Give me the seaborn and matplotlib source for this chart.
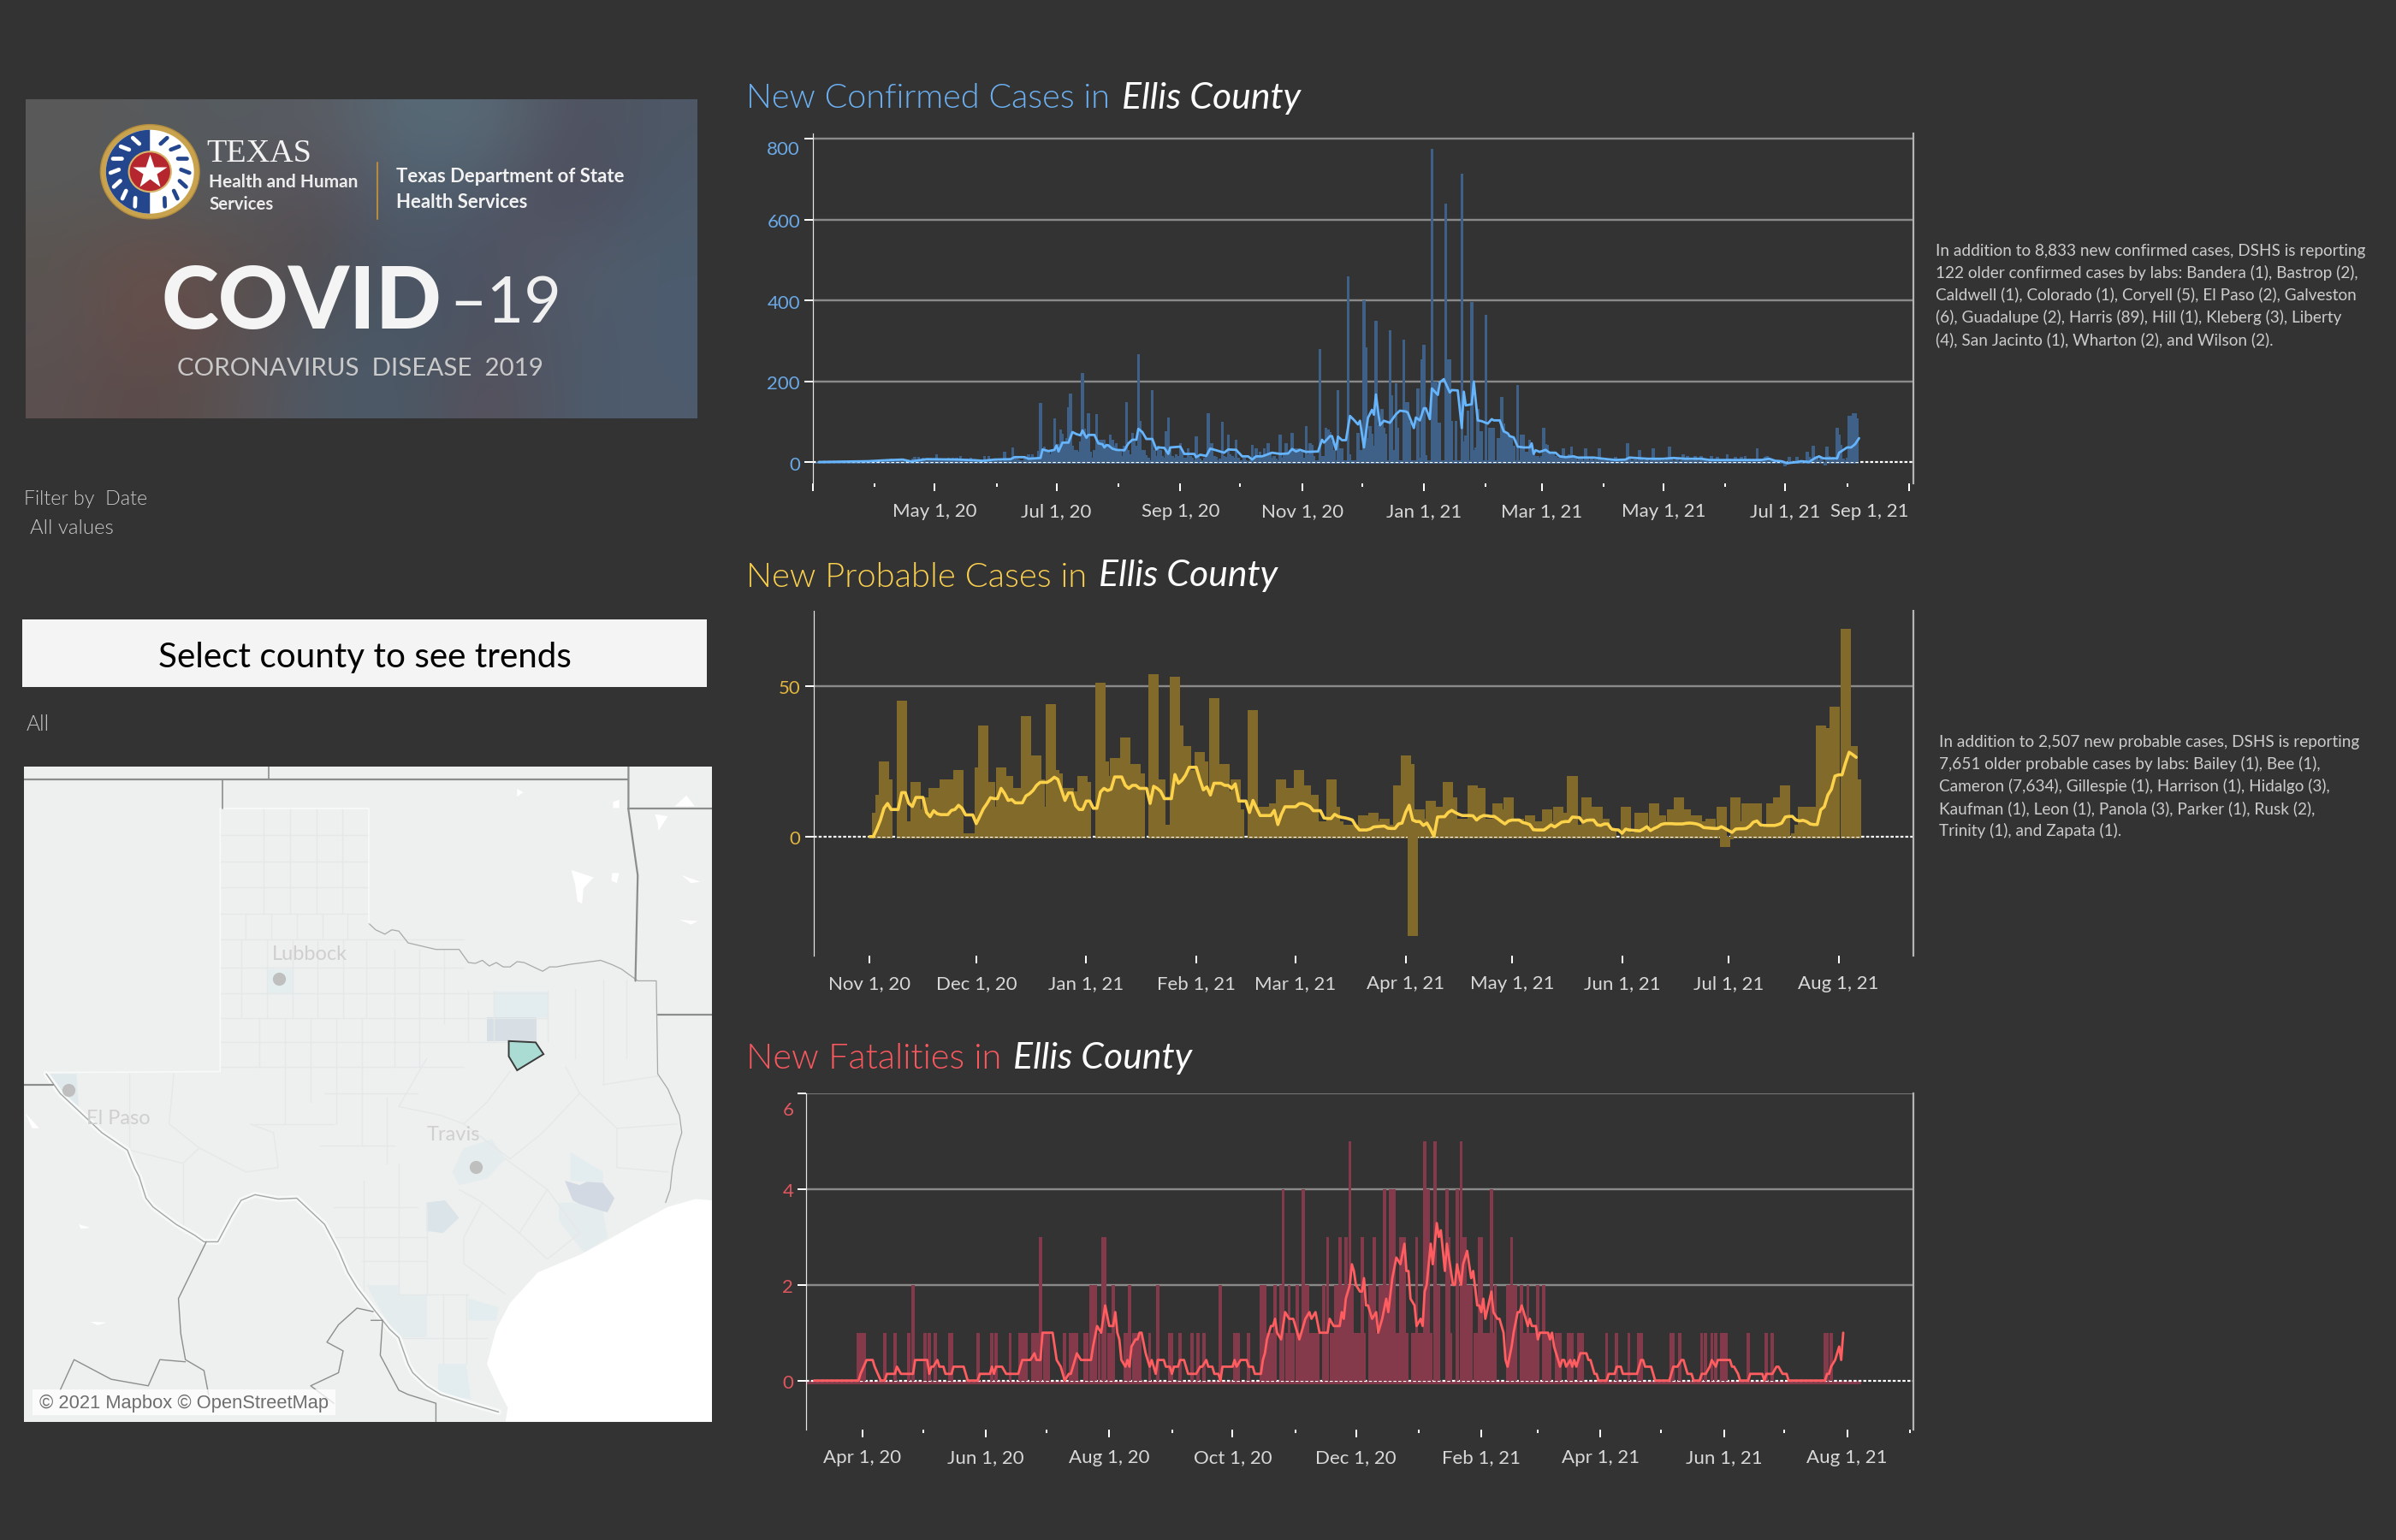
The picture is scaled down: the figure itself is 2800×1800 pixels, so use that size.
import numpy as np
import pandas as pd
import matplotlib
matplotlib.use("Agg")
import matplotlib.pyplot as plt
from matplotlib.patches import Polygon, Circle, Wedge, Rectangle
from matplotlib.transforms import ScaledTranslation
import seaborn as sns

sns.set_theme(style="dark")
FONT = ["Lato", "DejaVu Sans"]
plt.rcParams["font.family"] = FONT

# ---------- data ----------
# daily new confirmed cases from Mar 1, 2020 (rows of ten days)
conf_vals = [
0,0,0,0,0,0,0,1,0,0, 0,0,1,0,0,1,0,0,2,1, 1,0,2,1,0,3,1,2,4,2, 3,5,2,1,3,4,2,3,5,9,
5,2,3,6,4,2,3,1,2,3, 8,12,5,12,6,10,7,3,9,6, 5,8,20,6,3,5,7,4,11,9, 11,4,11,6,15,8,5,9,4,11,
7,3,5,2,4,3,15,2,15,4, 3,5,6,3,8,2,25,8,4,5, 37,10,8,7,5,4,8,6,20,12, 20,6,8,28,147,30,38,25,25,20,
30,109,30,45,80,69,50,60,135,169, 40,30,30,25,50,220,82,60,120,25, 10,30,118,50,55,55,55,40,45,68,
55,40,46,30,25,15,40,148,30,20, 71,50,40,266,101,29,29,16,10,5, 177,30,15,41,30,15,10,76,110,30,
15,10,20,15,46,25,10,10,33,15, 10,5,63,15,8,5,10,15,121,46, 46,15,12,5,8,100,15,12,68,20,
15,10,55,10,5,5,10,5,3,5, 42,15,33,15,25,10,33,20,46,25, 10,15,8,5,68,10,20,46,25,30,
71,33,33,33,25,25,10,89,20,46, 42,15,5,5,279,15,15,84,80,75, 50,30,5,177,33,33,5,5,460,20,
5,5,5,71,30,30,400,283,60,89, 70,40,350,90,95,131,84,70,5,325, 165,30,195,84,5,5,303,148,148,100,
5,5,5,182,10,254,290,16,5,5, 774,199,199,97,97,5,5,639,254,254, 101,5,101,5,5,714,50,65,127,5,
396,30,35,131,76,76,5,364,5,84, 84,84,5,60,60,160,96,70,65,65, 60,40,5,190,5,68,68,25,25,55,
42,20,15,15,10,15,84,45,42,25, 20,22,15,10,10,15,33,12,12,20, 38,10,8,5,8,10,5,33,10,5,
8,5,6,5,33,8,5,4,6,3, 5,8,12,6,3,4,5,5,46,8, 4,5,6,5,29,8,4,5,6,3, 5,33,8,4,6,3,5,5,6,38,
8,4,5,6,3,5,20,8,15,4, 5,4,15,6,3,15,4,5,3,6, 15,4,3,12,5,4,6,3,20,8, 3,4,12,5,3,12,4,15,3,5,
4,3,6,33,8,4,3,12,15,6, 5,3,2,1,0,-3,-5,-10,-6,12, 2,0,-2,12,2,-3,1,0,25,12, 8,41,10,15,5,12,2,-8,38,15,
8,12,5,84,68,42,8,5,10,114, 114,121,121,109]

conf_line = [(3,0),(28,2),(37,4.5),(45,6),(49,1.5),(57,7),(72,6),(81,4.5),(85,3),(91,6),(99,7),(101,12),(106,12),(108,8),
(114,10),(115,31),(118,27),(121,30),(122,41),(123,26),(125,48),(128,48),(130,74),(132,69),(134,66),(135,78),(137,60),(138,67),
(141,67),(143,46),(145,44),(146,36),(147,42),(148,41),(150,33),(152,30),(156,29),(158,46),(160,55),(162,55),(163,82),(165,74),
(167,57),(170,57),(172,31),(173,36),(176,35),(178,20),(179,36),(184,38),(186,20),(191,20),(192,12),(194,18),(197,15),(199,33),
(202,29),(206,23),(208,31),(212,30),(215,14),(218,14),(220,6),(222,14),(225,14),(230,23),(234,20),(238,21),(240,32),(242,26),
(244,30),(247,25),(253,26),(255,55),(256,48),(259,64),(260,64),(262,31),(263,63),(265,54),(267,54),(269,114),(271,104),(273,93),
(274,102),(276,36),(278,109),(280,129),(281,117),(282,167),(284,91),(286,102),(289,97),(292,118),(294,127),(297,125),(298,122),
(301,84),(302,110),(304,103),(306,133),(307,133),(309,106),(310,182),(313,166),(314,197),(316,205),(319,172),(320,178),(323,177),
(325,84),(326,174),(327,140),(330,143),(331,199),(333,103),(335,101),(338,95),(340,106),(341,103),(344,103),(346,76),(348,71),
(349,64),(351,61),(353,38),(356,36),(359,36),(360,46),(361,20),(362,29),(364,25),(367,30),(369,23),(372,23),(374,14),(377,12),
(381,14),(383,11),(391,11),(396,8),(402,5),(407,6),(409,11),(418,8),(426,8),(431,10),(437,8),(445,8),(449,5),(475,5),(479,8),
(482,3),(485,2),(488,-3),(493,0),(495,2),(499,0),(502,10),(504,14),(506,9),(513,9),(514,23),(518,36),(520,36),(522,44),(524,59)]

# daily new probable cases from Nov 1, 2020
prob_vals = [
0,0,8,14,25,19,0,0,0,45, 5,3,3,18,9,9,13,13,16,16, 16,19,19,15,8,22,1,1,1,1, 1,23,37,18,18,10,10,23,20,20,
16,16,16,12,40,27,27,27,19,10, 10,44,22,21,16,16,16,15,10,10, 20,18,0,0,0,51,25,20,20,26, 0,0,33,15,15,24,21,0,0,0,
54,19,19,4,0,0,53,37,30,30, 22,15,15,28,25,15,15,46,0,0, 24,15,15,19,9,0,0,0,42,10, 10,10,0,0,11,11,19,16,16,14,
14,22,17,17,14,14,0,0,5,5, 19,10,5,3,4,4,4,4,4,7, 5,5,8,5,5,6,4,4,4,17, 10,27,24,-33,6,9,6,6,12,10,
10,6,6,18,13,6,6,6,4,4, 17,16,16,5,6,5,5,11,9,9, 13,6,6,6,5,5,7,5,5,5, 5,9,4,5,10,8,5,5,20,4,
4,4,13,10,10,10,6,6,2,2, 0,0,0,10,1.5,1.5,1.5,8,8,3, 3,11,7,7,5,5,9,5,13,9, 9,7,7,7,5,3,3,6,3,3,
10,-3.4,-1,0,13,0,5,11,11,11, 11,3,3,3,11,11,13,13,17,0, 0,1,4,10,10,10,10,10,37,36, 20,20,43,0,0,69,30,30,19]

prob_line = [
0,0,2.5,5.5,9.4,11,9,9,9,14.6, 14.6,11,10,13,13,13,8,6.6,8.6,7.6, 7.3,7.3,7.3,8.7,9,10.4,9.4,7.2,7.2,7.2,
4.3,6.7,9.2,10.9,12.9,12.6,12.6,16,14.3,12, 12.3,11.2,11.2,11.2,13.5,14.2,15.3,17,18,18, 18,18.7,19.7,19,15.5,12,14.5,14.5,10.3,9,
9,11.8,11.8,9.4,9.4,14.8,16,15.3,15.7,19.8, 19.8,19.8,17,16,17,17,16,16,16,11, 16.7,16,15,12.6,12.6,12.6,20.6,17.7,18.7,20.4,
23,23,23,19,15.5,16.5,13.8,17.7,17.7,17.7, 17,17,16,17.5,11.8,11.8,11.8,8,12,9.4, 7,7,7,7,8.7,4,7.4,9.9,9.9,9.9,
9.9,10.9,11,10.6,10,8.6,8.6,8.6,6.2,6, 6,7.4,6.7,6.4,6.2,5.9,5.5,3.5,2.2,2.2, 2.2,2.5,3.2,3.3,3.4,3.5,2.8,2.7,2.7,4.2,
4.5,8,10.4,5.5,5,5,3.7,4.5,2.5,0.1, 6.5,6.6,6.6,8,8.7,8,7.4,7,7,7, 6.9,5.5,6.5,7,6.9,6.7,6.7,5.9,5,4.2,
5.2,5.5,5.5,5.5,4.7,4.4,4,2.3,2.2,2.2, 2.2,3,3.9,3.2,4,4.8,5,5,6.5,6.4, 6.3,4.8,5.4,5.5,5.5,3.9,3.7,4.2,4.2,2.5,
2.3,2.2,1.1,2.5,2.2,2.1,2,1.9,2.5,3.3, 2,2.7,3.2,4,4.3,4.3,4.3,4.2,4.2,4.2, 4.4,4.5,4.4,4.2,3.8,3,2.9,2.8,2.7,2.7,
3.3,2.7,2,1.4,2.5,2.6,2.6,2.7,3.5,4.8, 5.2,3.9,3.7,3.7,3.7,3.7,4,4.5,6.5,6.7, 6.7,5.5,5.2,5.4,5,4.2,4,4,8.9,9.9,
13.8,15.7,20.1,20.5,20.5,24.5,28,27.2,26.3]

# days since Apr 1, 2020 on which the county reported each fatality count
fatal_5 = [241,278,283,296]
fatal_4 = [208,218,258,261,262,263,279,280,289,294,311]
fatal_3 = [88,119,120,230,236,239,247,253,266,267,268,274,290,297,298,305,306,321]
fatal_2 = [25,113,114,115,124,132,146,177,197,198,199,204,207,211,215,219,220,228,234,235,237,238,240,242,251,252,256,257,259,260,
           284,285,299,300,301,313,319,320,322,323,326,329,334,337]
fatal_1 = [-2,-1,0,1,11,16,23,31,33,36,43,44,57,64,66,73,78,79,80,81,84,85,86,87,90,91,92,100,103,104,105,106,110,111,117,122,123,
           130,131,134,135,136,137,142,152,153,157,163,166,169,184,185,186,191,200,201,202,203,210,212,213,216,217,221,222,223,224,225,
           229,232,233,243,244,245,246,248,254,255,264,265,269,272,273,275,276,277,281,291,303,304,307,308,309,310,312,327,328,330,331,
           332,333,338,339,340,343,344,345,349,350,351,354,355,356,368,373,379,384,385,400,401,404,415,417,420,422,425,426,427,438,447,
           450,476,477,479]

fatal_line = [(-24,0),(-2,0),(-1,.14),(2,.43),(5,.43),(6,.29),(9,0),(11,0),(12,.14),(16,.14),(17,.29),(19,.14),(25,.14),(26,.43),(32,.43),
(33,.14),(34,.29),(35,.29),(37,.43),(38,.29),(40,.29),(41,.14),(44,.14),(45,.29),(50,.29),(52,0),(57,0),(58,.14),(63,.14),(64,.29),(65,.14),
(66,.29),(69,.29),(71,.14),(77,.14),(79,.43),(83,.43),(85,.57),(86,.43),(88,.43),(89,1),(94,1),(95,.71),(96,.43),(98,.29),(100,0),(102,.14),
(103,.14),(105,.43),(106,.57),(108,.43),(113,.43),(114,.71),(116,1.14),(118,1),(119,1.29),(120,1.57),(122,1.14),(124,1.14),(125,1.43),(126,1),
(127,.86),(128,.43),(130,.29),(131,.43),(132,.29),(133,.71),(135,.86),(136,.86),(137,1),(138,1),(140,.57),(142,.29),(143,.43),(145,.14),(146,.43),
(149,.43),(150,.29),(152,.29),(153,.14),(154,.29),(156,.29),(157,.43),(159,.43),(161,.14),(165,.14),(167,.29),(168,.29),(170,.43),(171,.29),
(173,.29),(174,.14),(176,.14),(177,0),(178,.29),(183,.29),(184,.43),(185,.29),(187,.43),(190,.43),(191,.29),(193,.29),(194,.14),(197,.14),(198,.43),
(199,.57),(200,.86),(202,1.14),(203,1.14),(204,1.29),(205,1),(207,.86),(209,1.43),(211,1.29),(213,1.29),(216,.86),(217,1),(219,1.29),(221,1.43),
(222,1.29),(224,1.43),(226,1),(230,1),(231,1.29),(233,1.14),(236,1.14),(237,1.43),(238,1.29),(239,1.71),(241,2),(242,2.43),(243,2.29),(244,2),
(246,1.86),(247,1.86),(248,2.14),(249,1.57),(250,1.57),(252,1.29),(254,1.43),(255,1),(257,1.29),(259,1.71),(260,1.43),(262,2.14),(264,2.57),
(266,2.43),(268,2.86),(269,2.29),(270,2.29),(271,1.71),(273,1.57),(274,1.14),(276,1.29),(277,1.14),(278,1.86),(279,2),(281,2.86),(282,2.43),
(284,3.29),(285,3),(286,3.14),(288,2.29),(289,2.86),(290,2.57),(292,2),(293,2),(294,2.43),(296,2),(297,2.43),(299,2.71),(301,2.14),(302,2.29),
(304,1.57),(305,1.57),(306,1.43),(307,1.71),(308,1.29),(311,1.86),(312,1.43),(314,1.29),(315,1.29),(317,1),(318,.43),(319,.29),(321,.71),(322,1),
(324,1.43),(325,1.43),(326,1.57),(328,1.29),(329,1.14),(330,1.29),(331,1.14),(333,1.14),(334,.86),(335,1),(339,1),(340,.86),(341,1),(342,.71),
(345,.29),(346,.43),(347,.43),(348,.29),(350,.43),(351,.29),(352,.43),(353,.29),(355,.57),(358,.57),(359,.43),(360,.43),(362,.14),(363,.14),(364,0),
(368,0),(369,.14),(372,.14),(373,.29),(375,.29),(376,.14),(383,.14),(385,.43),(386,.43),(387,.29),(390,.29),(392,0),(399,0),(401,.29),(403,.29),
(405,.43),(406,.43),(408,.14),(410,.14),(411,0),(414,0),(415,.14),(417,.14),(419,.29),(420,.43),(422,.29),(423,.43),(429,.43),(430,.29),(431,.29),
(433,.14),(434,0),(438,0),(439,.14),(445,.14),(446,0),(447,.14),(450,.14),(452,.29),(453,.29),(455,.14),(457,.14),(458,0),(476,0),(477,.14),(478,.14),
(479,.29),(481,.43),(483,.71),(484,.43),(485,1)]

conf_major = ["2020-03-01","2020-05-01","2020-07-01","2020-09-01","2020-11-01","2021-01-01","2021-03-01","2021-05-01","2021-07-01","2021-09-01"]
conf_minor = ["2020-04-01","2020-06-01","2020-08-01","2020-10-01","2020-12-01","2021-02-01","2021-04-01","2021-06-01","2021-08-01"]
conf_labels = ["","May 1, 20","Jul 1, 20","Sep 1, 20","Nov 1, 20","Jan 1, 21","Mar 1, 21","May 1, 21","Jul 1, 21","Sep 1, 21"]
prob_major = ["2020-11-01","2020-12-01","2021-01-01","2021-02-01","2021-03-01","2021-04-01","2021-05-01","2021-06-01","2021-07-01","2021-08-01"]
prob_labels = ["Nov 1, 20","Dec 1, 20","Jan 1, 21","Feb 1, 21","Mar 1, 21","Apr 1, 21","May 1, 21","Jun 1, 21","Jul 1, 21","Aug 1, 21"]
fatal_major = ["2020-04-01","2020-06-01","2020-08-01","2020-10-01","2020-12-01","2021-02-01","2021-04-01","2021-06-01","2021-08-01"]
fatal_minor = ["2020-05-01","2020-07-01","2020-09-01","2020-11-01","2021-01-01","2021-03-01","2021-05-01","2021-07-01","2021-09-01"]
fatal_labels = ["Apr 1, 20","Jun 1, 20","Aug 1, 20","Oct 1, 20","Dec 1, 20","Feb 1, 21","Apr 1, 21","Jun 1, 21","Aug 1, 21"]

note_conf = ["In addition to 8,833 new confirmed cases, DSHS is reporting",
             "122 older confirmed cases by labs: Bandera (1), Bastrop (2),",
             "Caldwell (1), Colorado (1), Coryell (5), El Paso (2), Galveston",
             "(6), Guadalupe (2), Harris (89), Hill (1), Kleberg (3), Liberty",
             "(4), San Jacinto (1), Wharton (2), and Wilson (2)."]
note_prob = ["In addition to 2,507 new probable cases, DSHS is reporting",
             "7,651 older probable cases by labs: Bailey (1), Bee (1),",
             "Cameron (7,634), Gillespie (1), Harrison (1), Hidalgo (3),",
             "Kaufman (1), Leon (1), Panola (3), Parker (1), Rusk (2),",
             "Trinity (1), and Zapata (1)."]

# ---------- figure ----------
W, H = 2800, 1800
BG = "#333333"
fig = plt.figure(figsize=(28, 18), dpi=100, facecolor=BG)
PT = 0.72  # points per pixel


def px_axes(x0, y0, x1, y1, **kw):
    return fig.add_axes([x0 / W, 1 - y1 / H, (x1 - x0) / W, (y1 - y0) / H], **kw)


def fit(t, width):
    r = fig.canvas.get_renderer()
    t.set_fontsize(t.get_fontsize() * width / t.get_window_extent(r).width)
    return t


def ftext(x, y, s, width=None, **kw):
    kw.setdefault("va", "center")
    kw.setdefault("color", "#d0d0d0")
    t = fig.text(x / W, 1 - y / H, s, **kw)
    if width:
        fit(t, width)
    return t


def days(dates, base):
    return [(pd.Timestamp(d) - pd.Timestamp(base)).days for d in dates]


def chart(box, base, xlim, ylim, yticks, ytop_shift, ycol, bar_x, bar_y, bar_col, bar_w, stub_x, stub_h,
          line_x, line_y, line_col, line_px, major, labels, minor=None, top_thin=False):
    ax = px_axes(*box)
    ax.set_facecolor(BG)
    sns.barplot(x=stub_x, y=[-stub_h] * len(stub_x), native_scale=True, width=bar_w, color=bar_col,
                saturation=1, errorbar=None, ax=ax, linewidth=0, zorder=1.4)
    ax.axhline(0, color="white", lw=2.2 * PT, ls=(0, (1.6, 1.0)), zorder=1.5)
    sns.barplot(x=bar_x, y=bar_y, native_scale=True, width=bar_w, color=bar_col, saturation=1,
                errorbar=None, ax=ax, linewidth=0, zorder=2)
    sns.lineplot(x=line_x, y=line_y, color=line_col, lw=line_px * PT, errorbar=None, ax=ax, zorder=3,
                 sort=False, estimator=None)
    ax.set_xlim(*xlim)
    ax.set_ylim(*ylim)
    ax.set_yticks(yticks)
    ax.set_xticks(days(major, base))
    ax.set_xticklabels(labels)
    if minor:
        ax.set_xticks(days(minor, base), minor=True)
    ax.set_xlabel("")
    ax.set_ylabel("")
    ax.grid(False)
    ax.set_axisbelow(True)
    for yv in yticks:
        if yv != 0:
            thin = top_thin and yv == yticks[-1]
            ax.axhline(yv, color="#8a8a8a", lw=(1.6 if thin else 2.4) * PT, zorder=1)
    for side in ("top", "bottom"):
        ax.spines[side].set_visible(False)
    ax.spines["left"].set_color("#e6e6e6")
    ax.spines["left"].set_linewidth(1.2 * PT)
    ax.spines["right"].set_color("#b4b4b4")
    ax.spines["right"].set_linewidth(2.2 * PT)
    ax.tick_params(axis="y", length=10 * PT, width=2 * PT, color="white", labelcolor=ycol, labelsize=16, pad=5 * PT, left=True)
    ax.tick_params(axis="x", which="major", length=9 * PT, width=2 * PT, color="white", labelcolor="#d8d8d8",
                   labelsize=16, pad=14 * PT, bottom=True)
    ax.tick_params(axis="x", which="minor", length=4 * PT, width=2 * PT, color="white", bottom=True)
    for tk, yv in zip(ax.yaxis.get_major_ticks(), yticks):
        dy = ytop_shift if yv == yticks[-1] and ytop_shift else 1.5
        lb = tk.label1
        lb.set_transform(lb.get_transform() + ScaledTranslation(0, -dy / 100, fig.dpi_scale_trans))
    return ax


# chart 1 - confirmed
cd = list(range(len(conf_vals)))
cl = pd.DataFrame(conf_line, columns=["d", "v"])
ax1 = chart((950, 156, 2236, 565), "2020-03-01", (0, 551.2), (-52.9, 812.7), [0, 200, 400, 600, 800], 11, "#6aa8e6",
            cd, conf_vals, "#3f6187", 1.5, cd, 4.5, cl.d, cl.v, "#66b4fb", 2.8, conf_major, conf_labels, conf_minor)
ax1.get_xticklabels()[-1].set_ha("right")

# chart 2 - probable
pd_days = list(range(len(prob_vals)))
pos_days = [d for d, v in zip(pd_days, prob_vals) if v > 0]
chart((950.5, 714, 2236, 1117), "2020-11-01", (-15.9, 294.1), (-39.5, 74.9), [0, 50], 0, "#e3b63e",
      pd_days, prob_vals, "#816a2a", 2.9, pos_days, 0.55, pd_days, prob_line, "#fdd24b", 3.6, prob_major, prob_labels)

# chart 3 - fatalities
fatal_table = pd.concat([pd.DataFrame({"d": lst, "v": val}) for lst, val in
                         [(fatal_1, 1), (fatal_2, 2), (fatal_3, 3), (fatal_4, 4), (fatal_5, 5)]]).sort_values("d")
fl = pd.DataFrame(fatal_line, columns=["d", "v"])
stub3 = list(range(-27, 494))
chart((942.3, 1278, 2236, 1670.7), "2020-04-01", (-27.8, 519.7), (-1.02, 6), [0, 2, 4, 6], 17.5, "#e0575f",
      fatal_table.d.tolist(), fatal_table.v.tolist(), "#853a4b", 1.6, stub3, 0.07, fl.d, fl.v, "#ff5d60", 2.8,
      fatal_major, fatal_labels, fatal_minor, top_thin=True)

# titles
TITLES = [("New Confirmed Cases in", "#6cb0f2", 126.5, 426, 1310.7),
          ("New Probable Cases in", "#fbd04e", 685.5, 399, 1284),
          ("New Fatalities in", "#f9585e", 1249, 298.6, 1183.5)]
for s, col, by_, w, ex in TITLES:
    ftext(872, by_, s, width=w, color=col, fontsize=27, va="baseline", fontweight=300)
    ftext(ex, by_, "Ellis County", width=209, color="white", fontsize=27, va="baseline", style="italic")

# notes
for i, s in enumerate(note_conf):
    ftext(2262, 293 + 26 * i, s, color="#cccccc", fontsize=13.7)
for i, s in enumerate(note_prob):
    ftext(2266, 867 + 26 * i, s, color="#cccccc", fontsize=13.7)

# left column
ftext(28, 583.5, "Filter by  Date", width=144, color="#c8c8c8", fontsize=15.5, fontweight=300)
ftext(35, 618, "All values", width=97, color="#c8c8c8", fontsize=15.5, fontweight=300)
ftext(31, 846.5, "All", width=27, color="#c8c8c8", fontsize=15.5, fontweight=300)

btn = px_axes(26, 724, 826, 803)
btn.set_facecolor("#f4f4f4")
btn.set_xticks([]); btn.set_yticks([])
for s in btn.spines.values():
    s.set_visible(False)
ftext(426, 768.5, "Select county to see trends", width=483, color="black", fontsize=28, ha="center", zorder=5)

# banner (drawn in its own pixel grid)
ban = px_axes(30, 116, 814, 489.5)
ban.set_axis_off()
ban_cols = [["#5a5a5a", "#585a5c", "#555c62", "#5a5a60", "#566a78", "#5a6a76", "#50505e", "#4d5866"],
            ["#5a5a5a", "#565656", "#565a5e", "#5a5058", "#4f6070", "#505a68", "#4e4a5a", "#4c5a6a"],
            ["#5a5450", "#684f4a", "#58514f", "#504c50", "#4a5868", "#505060", "#555c6a", "#4c5c6c"],
            ["#5a5454", "#6a4c48", "#5c5050", "#4e5660", "#485868", "#4f5260", "#505a68", "#4c5c70"],
            ["#5c5050", "#5a4a48", "#5a5454", "#4f5866", "#4a5a68", "#584f58", "#4d5a6a", "#4e5c6e"]]
ban_img = np.array([[matplotlib.colors.to_rgb(c) for c in row] for row in ban_cols])
ban.imshow(ban_img, extent=(56, 1519, 783, 51), aspect="auto", interpolation="bicubic")
ban.set_xlim(56, 1519); ban.set_ylim(783, 51)
sx, sy = 327, 217
ban.add_patch(Circle((sx, sy), 108, fc="#c9a24e", ec="#b08a3e", lw=1))
ban.add_patch(Circle((sx, sy), 96, fc="white", ec="none"))
ban.add_patch(Wedge((sx, sy), 96, 90, 270, fc="#24468c", ec="none"))
for ang in np.arange(-70, 80, 22):
    a = np.deg2rad(ang)
    ban.plot([sx + 68 * np.cos(a), sx + 86 * np.cos(a + .1)], [sy + 68 * np.sin(a), sy + 86 * np.sin(a + .1)], color="#24468c", lw=3.4)
    ban.plot([sx - 68 * np.cos(a), sx - 86 * np.cos(a + .1)], [sy + 68 * np.sin(a), sy + 86 * np.sin(a + .1)], color="white", lw=3.4)
ban.add_patch(Circle((sx, sy), 46, fc="#b5262f", ec="#d7b46a", lw=1.5))
ban.plot([sx], [sy], marker="*", ms=30, color="white", mec="none")
ban.plot([823, 823], [197, 325], color="#b58b3c", lw=1.5)


def bx(z):
    return 30 + (z - 56) / 1.867


def by(z):
    return 90 + z / 1.96


ftext(bx(450), by(175), "TEXAS", width=123, color="#f2f2f2", fontsize=28, family="Liberation Serif", zorder=5)
ftext(bx(456), by(242), "Health and Human", width=175, color="#ececec", fontsize=16, fontweight="bold", zorder=5)
ftext(bx(456), by(292), "Services", width=76, color="#ececec", fontsize=16, fontweight="bold", zorder=5)
ftext(bx(865), by(228), "Texas Department of State", width=267, color="#f2f2f2", fontsize=16, fontweight="bold", zorder=5)
ftext(bx(865), by(288), "Health Services", width=154, color="#f2f2f2", fontsize=16, fontweight="bold", zorder=5)
ftext(bx(352), by(520), "COVID", width=328, color="#f4f4f4", fontsize=80, fontweight="black", zorder=5)
ftext(bx(980), by(520), "\u201319", width=131, color="#f0f0f0", fontsize=80, zorder=5)
ftext(bx(387), by(668), "CORONAVIRUS  DISEASE  2019", width=425, color="#c9c9c9", fontsize=22, zorder=5)

# map (drawn in its own pixel grid)
mp = px_axes(28, 896, 832, 1661.6)
mp.set_facecolor("#eef0ef")
mp.set_xlim(52, 1535); mp.set_ylim(1532, 31)
mp.set_xticks([]); mp.set_yticks([])
for s in mp.spines.values():
    s.set_visible(False)
COUNTY = "#e5e8e8"
for yv, x0, x1 in [(188, 475, 795), (248, 475, 795), (308, 475, 795), (368, 475, 795), (428, 475, 1000), (492, 475, 1000),
                   (550, 475, 1180), (607, 475, 1180), (663, 475, 1100), (720, 475, 1000), (780, 700, 900), (850, 550, 720),
                   (900, 690, 850), (1040, 720, 900), (1110, 720, 920), (1165, 780, 920), (1240, 860, 1010), (1340, 860, 1050)]:
    mp.plot([x0, x1], [yv, yv], color=COUNTY, lw=1)
for xv, y0, y1 in [(568, 128, 368), (625, 128, 368), (682, 128, 368), (738, 128, 368), (530, 368, 428), (585, 368, 428),
                   (640, 368, 428), (695, 368, 428), (750, 368, 428), (520, 428, 607), (575, 428, 607), (632, 428, 607), (685, 428, 607),
                   (740, 428, 607), (790, 428, 607), (850, 450, 720), (905, 450, 720), (958, 450, 620), (1010, 545, 660), (1065, 545, 660),
                   (1180, 545, 660), (1240, 540, 700), (1300, 520, 760), (1350, 520, 700), (560, 607, 720), (615, 607, 850), (670, 607, 800),
                   (725, 607, 850), (780, 607, 900), (835, 790, 940), (785, 980, 1240), (860, 940, 1240), (920, 1040, 1240), (955, 1240, 1400), (1005, 1240, 1400)]:
    mp.plot([xv, xv], [y0, y1], color=COUNTY, lw=1)
for poly in [[(280, 735), (280, 910), (395, 940), (430, 905), (365, 850), (375, 735)], [(395, 940), (395, 1090)], [(430, 905), (530, 960), (600, 950), (590, 870), (540, 850)],
             [(1100, 730), (1050, 800), (1000, 850), (1100, 930), (1170, 870), (1250, 780), (1220, 720)], [(1090, 930), (1180, 1000), (1120, 1100), (1040, 1030), (990, 1000)],
             [(1180, 1000), (1250, 1100), (1180, 1160), (1120, 1100)], [(1300, 760), (1420, 740)], [(1250, 780), (1330, 860), (1460, 850)], [(1330, 860), (1330, 950), (1440, 960)],
             [(920, 700), (860, 810), (950, 830), (1000, 850)], [(1040, 1030), (1000, 1110), (1000, 1170), (1090, 1240)]]:
    px, py = zip(*poly)
    mp.plot(px, py, color=COUNTY, lw=1)
SHADES = [([(1065, 547), (1180, 547), (1180, 605), (1065, 605)], "#e3ecee"),
          ([(1050, 605), (1157, 605), (1157, 660), (1050, 660)], "#d7dfe5"),
          ([(1218, 980), (1250, 990), (1280, 975), (1300, 985), (1325, 1020), (1310, 1052), (1270, 1045), (1235, 1025)], "#d3d9e2"),
          ([(920, 1030), (960, 1025), (990, 1065), (955, 1100), (920, 1095)], "#dbe4e8"),
          ([(1000, 905), (1060, 885), (1090, 930), (1050, 975), (990, 990), (975, 960)], "#e5ecee"),
          ([(100, 735), (165, 735), (170, 810), (130, 780)], "#e0eaec"),
          ([(578, 495), (632, 495), (632, 550), (578, 550)], "#e4eeee"),
          ([(790, 1220), (860, 1220), (860, 1240), (920, 1240), (920, 1338), (855, 1338)], "#e4ecee"),
          ([(1205, 1030), (1240, 1030), (1300, 1050), (1310, 1110), (1260, 1145), (1225, 1100), (1205, 1070)], "#e5ecee"),
          ([(1230, 915), (1300, 960), (1300, 985), (1230, 980)], "#e3ecee"),
          ([(945, 1400), (1005, 1400), (1015, 1480), (945, 1470)], "#e3ecee"),
          ([(1010, 1250), (1075, 1270), (1070, 1300), (1010, 1300)], "#e3ecee")]
for pts, c in SHADES:
    mp.add_patch(Polygon(pts, fc=c, ec="none"))
mp.add_patch(Polygon([(1097, 660), (1155, 663), (1172, 690), (1115, 727), (1097, 695)], fc="#aadcd3", ec="#3a3a3a", lw=1.4, zorder=4))
rio = [(100, 735), (130, 780), (170, 820), (220, 870), (275, 910), (290, 950), (300, 970), (315, 1020), (330, 1040), (380, 1080), (420, 1105), (440, 1120), (470, 1120),
       (490, 1080), (500, 1060), (520, 1025), (550, 1012), (600, 1022), (640, 1020), (670, 1050), (700, 1080), (730, 1140), (750, 1190), (770, 1225), (810, 1280), (840, 1320), (860, 1340),
       (880, 1400), (890, 1420), (920, 1450), (950, 1470), (1010, 1490), (1075, 1510)]
rx, ry = zip(*rio)
mp.plot(rx, ry, color="#f7f8f8", lw=5)
mp.plot(rx, ry, color="#a4a6a6", lw=1)
red = [(795, 390), (810, 405), (830, 415), (845, 405), (860, 408), (880, 435), (900, 440), (920, 445), (940, 450), (960, 450), (990, 450), (1000, 465), (1010, 480), (1025, 482),
       (1040, 475), (1055, 488), (1070, 480), (1085, 490), (1100, 490), (1115, 478), (1130, 480), (1150, 490), (1170, 500), (1185, 490), (1200, 490), (1230, 484), (1260, 480), (1295, 475),
       (1320, 485), (1340, 495), (1375, 522), (1415, 522), (1418, 735), (1440, 770), (1452, 800), (1465, 830), (1470, 870), (1458, 910), (1450, 950), (1445, 1000), (1435, 1030)]
qx, qy = zip(*red)
mp.plot(qx, qy, color="#a8aaaa", lw=0.9)
for pts, c, lw in [([(475, 128), (795, 128), (795, 390)], "#f8f9f9", 1.2), ([(475, 128), (475, 730), (100, 732)], "#f8f9f9", 1.2),
                   ([(52, 60), (1355, 60)], "#8c8e8e", 1.6), ([(480, 60), (480, 128)], "#8c8e8e", 1.2), ([(580, 31), (580, 60)], "#8c8e8e", 1.2),
                   ([(1355, 31), (1355, 130), (1375, 280), (1370, 522)], "#8c8e8e", 1.6), ([(1355, 128), (1535, 128)], "#8c8e8e", 1.6),
                   ([(1418, 600), (1535, 600)], "#8c8e8e", 1.6), ([(52, 760), (115, 760)], "#8c8e8e", 1.6),
                   ([(445, 1120), (385, 1250), (390, 1330), (400, 1390), (440, 1415), (450, 1470)], "#8c8e8e", 1),
                   ([(400, 1395), (345, 1390), (320, 1450), (240, 1435), (160, 1390), (130, 1460)], "#8c8e8e", 1),
                   ([(805, 1280), (770, 1272), (730, 1310), (705, 1350), (740, 1370), (730, 1420), (670, 1450), (720, 1490)], "#8c8e8e", 1),
                   ([(800, 1300), (825, 1300), (820, 1380), (860, 1460), (880, 1470), (940, 1490), (940, 1532)], "#8c8e8e", 1)]:
    ax_, ay_ = zip(*pts)
    mp.plot(ax_, ay_, color=c, lw=lw)
mp.add_patch(Polygon([(1535, 1025), (1500, 1022), (1440, 1040), (1370, 1080), (1320, 1110), (1250, 1150), (1160, 1190), (1100, 1260), (1070, 1320),
                      (1050, 1400), (1080, 1470), (1095, 1500), (1090, 1532), (1535, 1532)], fc="white", ec="none", zorder=3))
for lake in [[(1232, 268), (1280, 285), (1258, 310), (1255, 345), (1245, 340), (1240, 300)], [(1320, 275), (1335, 275), (1330, 298), (1318, 292)],
             [(1470, 280), (1510, 295), (1490, 298)], [(1465, 382), (1505, 385), (1490, 393)], [(1412, 140), (1440, 145), (1420, 178), (1418, 160)],
             [(1455, 122), (1480, 97), (1498, 122)], [(1322, 112), (1335, 107), (1335, 126), (1322, 126)], [(55, 825), (85, 860), (70, 860)],
             [(1115, 82), (1128, 90), (1115, 100)], [(170, 1080), (195, 1088), (175, 1090)], [(195, 1303), (230, 1305), (210, 1311)]]:
    mp.add_patch(Polygon(lake, fc="white", ec="none", zorder=3))
for (cx, cy) in [(601, 517), (147, 772), (1025, 948)]:
    mp.plot([cx], [cy], marker="o", ms=11, color="#c0bfbf", mec="none", zorder=5)
for tx, ty, s in [(668, 462, "Lubbock"), (255, 838, "El Paso"), (978, 875, "Travis")]:
    mp.text(tx, ty, s, ha="center", va="center", color="#cfcfcf", fontsize=17, zorder=6)
mp.add_patch(Rectangle((70, 1458), 654, 59, fc="white", alpha=0.75, ec="none", zorder=6))
t = mp.text(85, 1490, "\u00a9 2021 Mapbox \u00a9 OpenStreetMap", color="#6e6e6e", fontsize=16, family="Liberation Sans", va="center", zorder=7)
fit(t, 338)

fig.savefig("out.png", dpi=100, facecolor=BG)
